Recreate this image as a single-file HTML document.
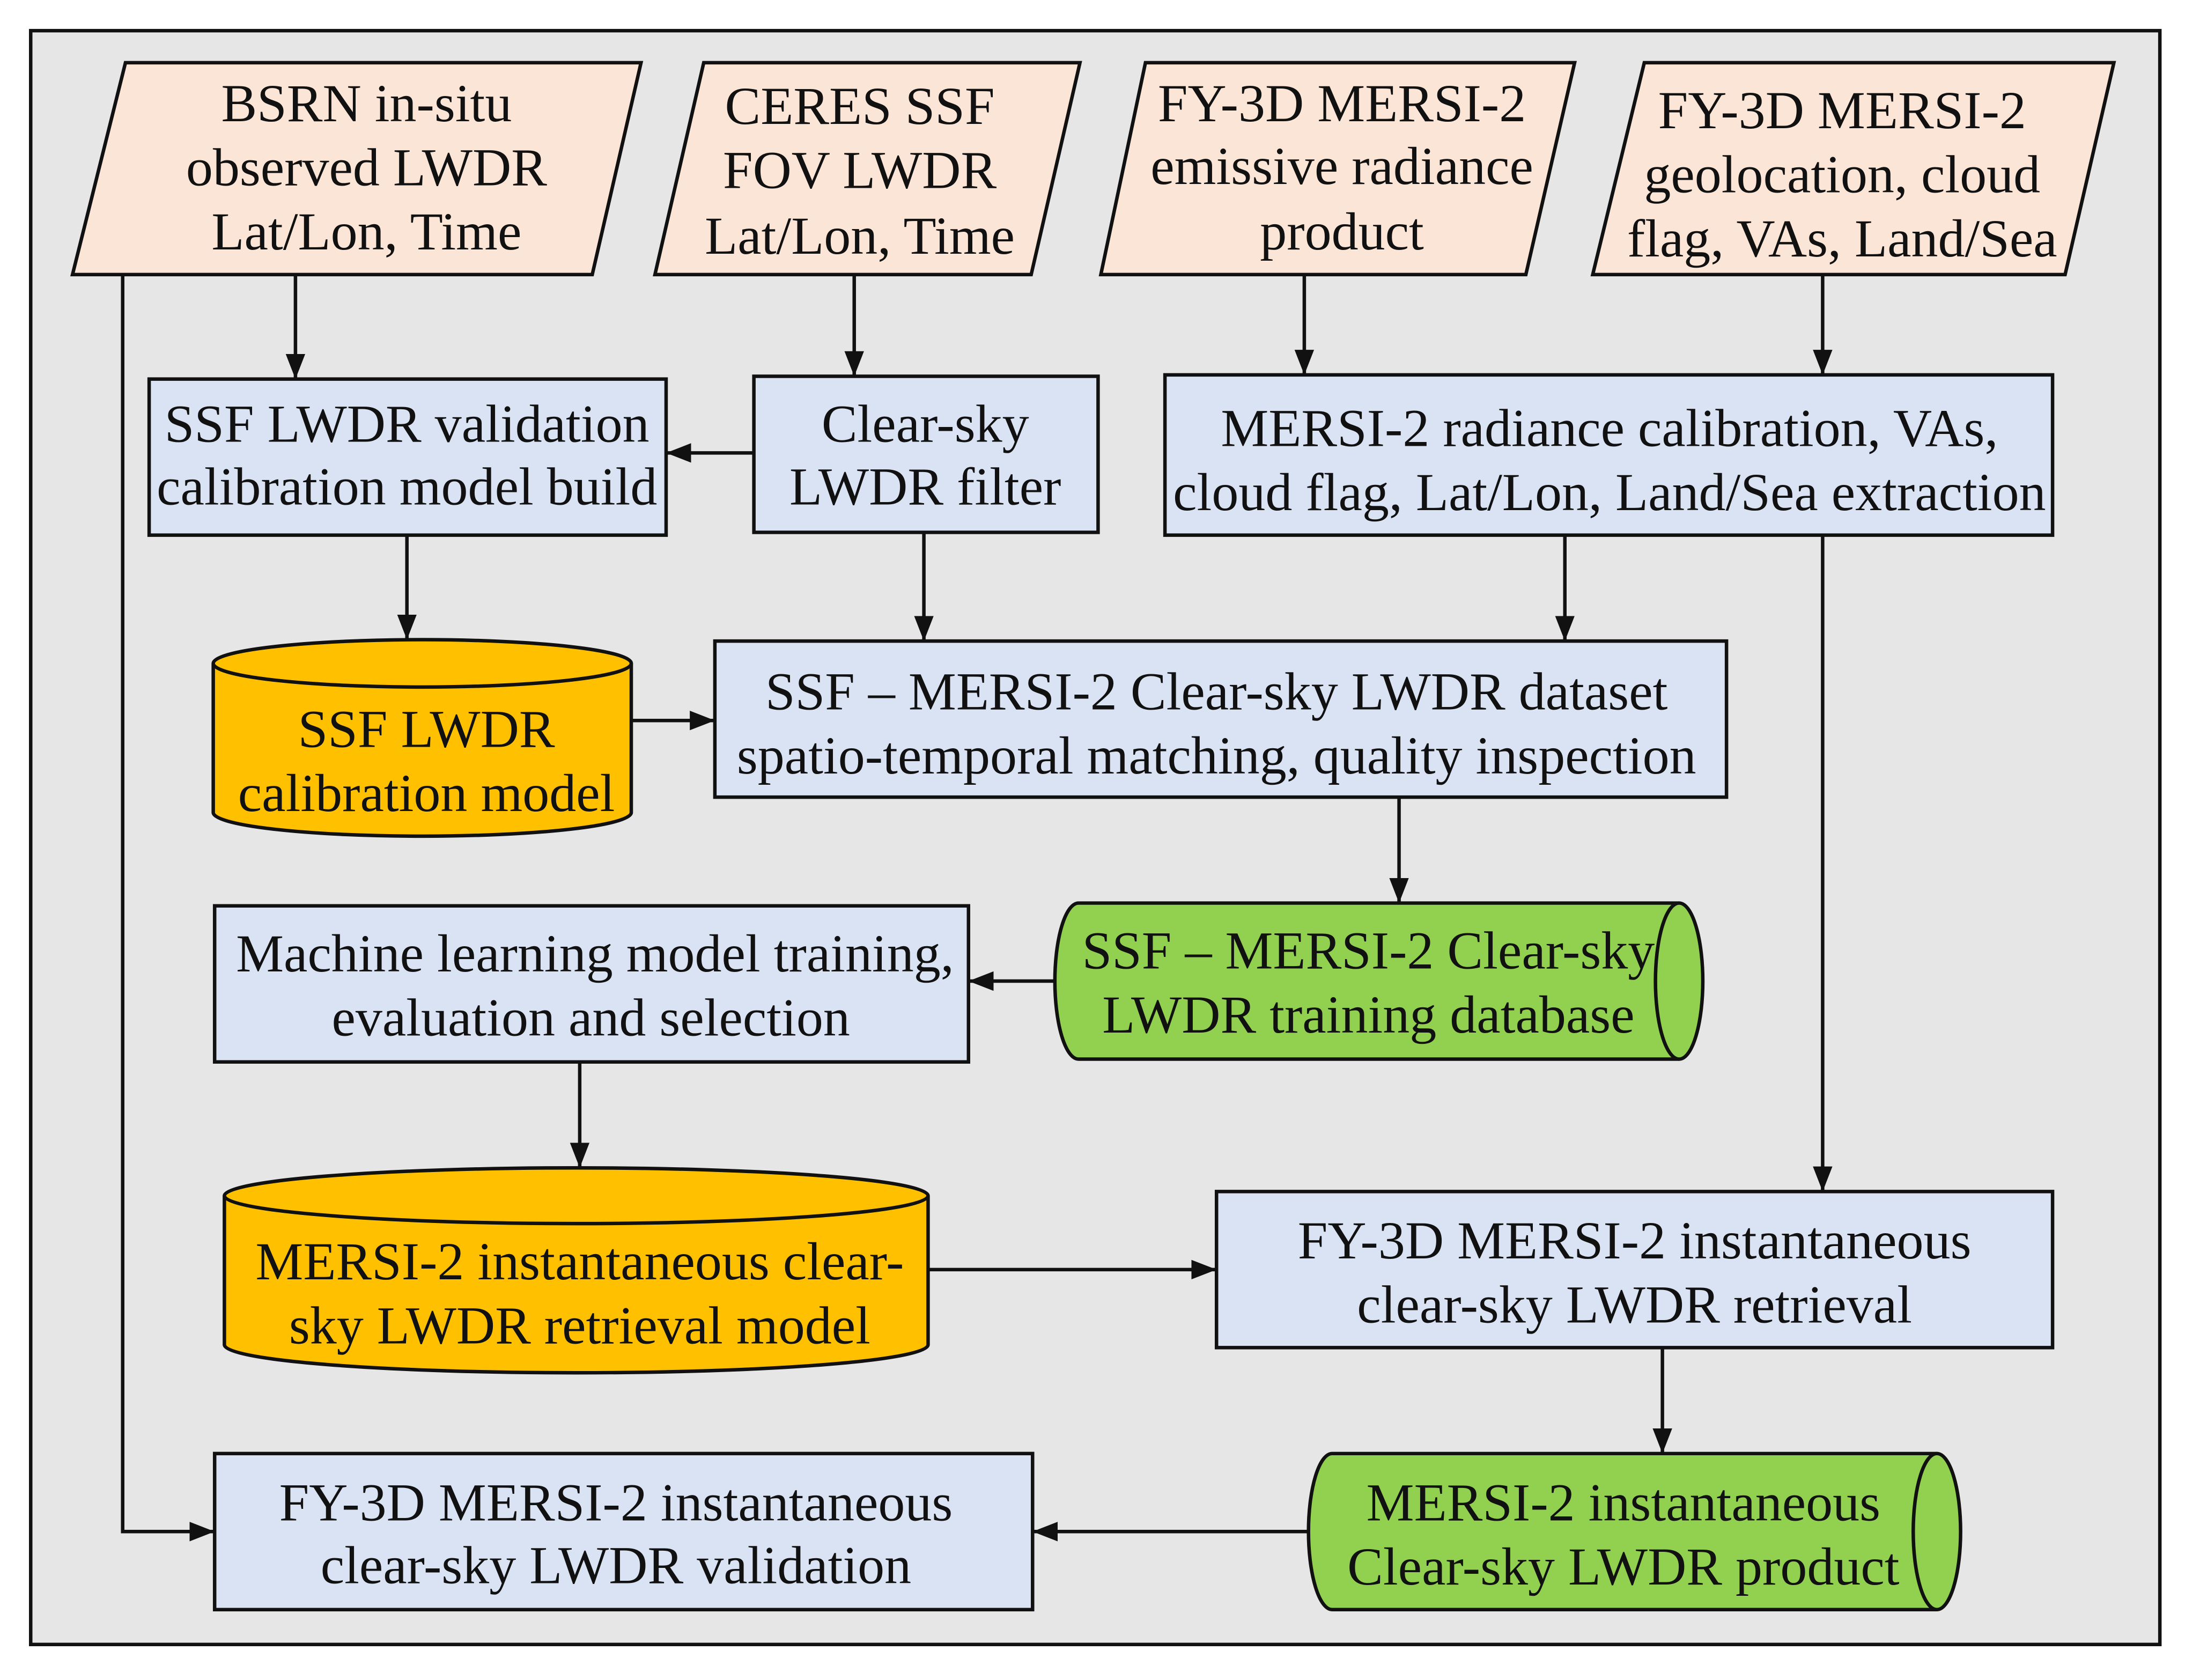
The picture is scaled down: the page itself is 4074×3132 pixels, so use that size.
<!DOCTYPE html>
<html><head><meta charset="utf-8">
<style>
html,body{margin:0;padding:0;background:#fff;}
svg{display:block;}
text{font-family:"Liberation Serif",serif;font-size:38.5px;fill:#111;text-anchor:middle;}
</style></head>
<body>
<svg width="4074" height="3132" viewBox="0 0 1568 1205.5" xmlns="http://www.w3.org/2000/svg">
<defs>
<marker id="b" markerWidth="18" markerHeight="14" refX="17" refY="7" orient="auto" markerUnits="userSpaceOnUse">
<path d="M0,0 L18,7 L0,14 z" fill="#111"/>
</marker>
</defs>
<rect x="0" y="0" width="1568" height="1205.5" fill="#fff"/>
<rect x="22" y="22" width="1528" height="1158" fill="#e6e6e6" stroke="#111" stroke-width="2.5"/>

<g fill="#fbe5d6" stroke="#111" stroke-width="2.5">
<polygon points="90,45 460,45 425,197 52,197"/>
<polygon points="505,45 775,45 740,197 470,197"/>
<polygon points="822,45 1130,45 1095,197 790,197"/>
<polygon points="1180,45 1517,45 1482,197 1143,197"/>
</g>
<text x="263" y="87">BSRN in-situ</text>
<text x="263" y="133">observed LWDR</text>
<text x="263" y="179">Lat/Lon, Time</text>
<text x="617" y="89">CERES SSF</text>
<text x="617" y="135">FOV LWDR</text>
<text x="617" y="182">Lat/Lon, Time</text>
<text x="963" y="87">FY-3D MERSI-2</text>
<text x="963" y="132">emissive radiance</text>
<text x="963" y="179">product</text>
<text x="1322" y="92">FY-3D MERSI-2</text>
<text x="1322" y="138">geolocation, cloud</text>
<text x="1322" y="184">flag, VAs, Land/Sea</text>

<g fill="#dae3f3" stroke="#111" stroke-width="2.5">
<rect x="107" y="272" width="371" height="112"/>
<rect x="541" y="270" width="247" height="112"/>
<rect x="836" y="269" width="637" height="115"/>
<rect x="513" y="460" width="726" height="112"/>
<rect x="154" y="650" width="541" height="112"/>
<rect x="873" y="855" width="600" height="112"/>
<rect x="154" y="1043" width="587" height="112"/>
</g>
<text x="292" y="317">SSF LWDR validation</text>
<text x="292" y="362">calibration model build</text>
<text x="664" y="317">Clear-sky</text>
<text x="664" y="362">LWDR filter</text>
<text x="1155" y="320">MERSI-2 radiance calibration, VAs,</text>
<text x="1155" y="366">cloud flag, Lat/Lon, Land/Sea extraction</text>
<text x="873" y="509">SSF – MERSI-2 Clear-sky LWDR dataset</text>
<text x="873" y="555">spatio-temporal matching, quality inspection</text>
<text x="427" y="697">Machine learning model training,</text>
<text x="424" y="743">evaluation and selection</text>
<text x="1173" y="903">FY-3D MERSI-2 instantaneous</text>
<text x="1173" y="949">clear-sky LWDR retrieval</text>
<text x="442" y="1091">FY-3D MERSI-2 instantaneous</text>
<text x="442" y="1136">clear-sky LWDR validation</text>

<g fill="#ffc000" stroke="#111" stroke-width="2.5">
<path d="M153,476 L153,583 A150,17 0 0 0 453,583 L453,476"/>
<ellipse cx="303" cy="476" rx="150" ry="17"/>
<path d="M161,858 L161,965 A252,20 0 0 0 666,965 L666,858"/>
<ellipse cx="413.5" cy="858" rx="252.5" ry="20"/>
</g>
<text x="306" y="536">SSF LWDR</text>
<text x="306" y="582">calibration model</text>
<text x="416" y="918">MERSI-2 instantaneous clear-</text>
<text x="416" y="964">sky LWDR retrieval model</text>

<g fill="#92d050" stroke="#111" stroke-width="2.5">
<path d="M1205,648 L774,648 A17,56 0 0 0 774,760 L1205,760"/>
<ellipse cx="1205" cy="704" rx="17" ry="56"/>
<path d="M1390,1043 L956,1043 A17,56 0 0 0 956,1155 L1390,1155"/>
<ellipse cx="1390" cy="1099" rx="17" ry="56"/>
</g>
<text x="982" y="695">SSF – MERSI-2 Clear-sky</text>
<text x="982" y="741">LWDR training database</text>
<text x="1165" y="1091">MERSI-2 instantaneous</text>
<text x="1165" y="1137">Clear-sky LWDR product</text>

<g stroke="#111" stroke-width="2.5" fill="none" marker-end="url(#b)">
<line x1="212" y1="197" x2="212" y2="271"/>
<line x1="613" y1="197" x2="613" y2="269"/>
<line x1="936" y1="197" x2="936" y2="268"/>
<line x1="1308" y1="197" x2="1308" y2="268"/>
<line x1="541" y1="325" x2="479" y2="325"/>
<line x1="292" y1="384" x2="292" y2="458"/>
<line x1="663" y1="382" x2="663" y2="459"/>
<line x1="1123" y1="384" x2="1123" y2="459"/>
<line x1="1308" y1="384" x2="1308" y2="854"/>
<line x1="453" y1="517" x2="512" y2="517"/>
<line x1="1004" y1="572" x2="1004" y2="647"/>
<line x1="757" y1="704" x2="696" y2="704"/>
<line x1="416" y1="762" x2="416" y2="837"/>
<line x1="666" y1="911" x2="872" y2="911"/>
<line x1="1193" y1="967" x2="1193" y2="1042"/>
<line x1="939" y1="1099" x2="742" y2="1099"/>
<polyline points="88,197 88,1099 153,1099"/>
</g>
</svg>
</body></html>
